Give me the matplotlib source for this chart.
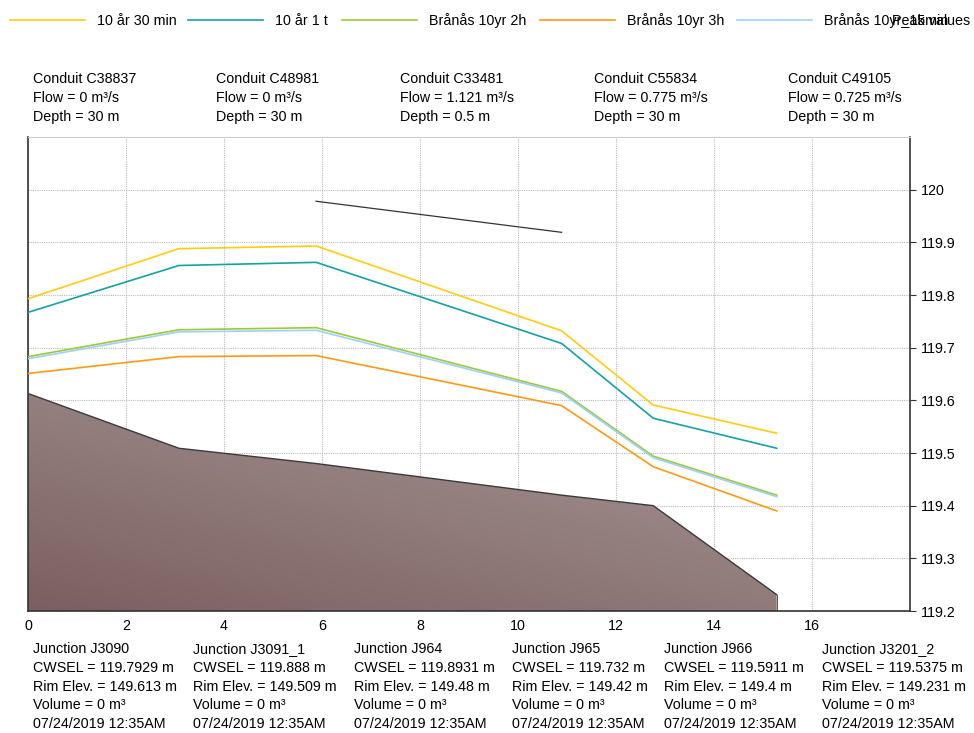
import numpy as np
import matplotlib
matplotlib.use("Agg")
import matplotlib.pyplot as plt
from matplotlib.lines import Line2D
from matplotlib.colors import LinearSegmentedColormap
from matplotlib.ticker import FuncFormatter

plt.rcParams['font.family'] = ['Liberation Sans', 'DejaVu Sans']

# Profile stations (distance along the profile) of the junctions
station = [0.0, 3.08, 5.88, 10.89, 12.76, 15.28]
junctions = ["J3090", "J3091_1", "J964", "J965", "J966", "J3201_2"]
rim_elev = [149.613, 149.509, 149.48, 149.42, 149.4, 149.231]
depth = 30.0
invert = [r - depth for r in rim_elev]
cwsel_labels = ["119.7929", "119.888", "119.8931", "119.732", "119.5911", "119.5375"]

# Water-surface elevations per simulation
series_names = ["10 år 30 min", "10 år 1 t", "Brånås 10yr 2h", "Brånås 10yr 3h", "Brånås 10yr_15min"]
series_colors = ["#ffcc11", "#13a3a3", "#99cc33", "#ff9a10", "#9fcfff"]
wsel_30min = [119.7929, 119.888, 119.8931, 119.732, 119.5911, 119.5375]
wsel_1t = [119.767, 119.856, 119.862, 119.708, 119.566, 119.509]
wsel_2h = [119.683, 119.734, 119.738, 119.617, 119.494, 119.420]
wsel_3h = [119.651, 119.683, 119.685, 119.590, 119.474, 119.390]
wsel_15min = [119.679, 119.730, 119.733, 119.614, 119.491, 119.417]
series_values = [wsel_30min, wsel_1t, wsel_2h, wsel_3h, wsel_15min]

# Crown line segment
crown_x = [5.88, 10.89]
crown_y = [119.978, 119.919]

conduits = ["C38837", "C48981", "C33481", "C55834", "C49105"]
conduit_flow = ["0", "0", "1.121", "0.775", "0.725"]
conduit_depth = ["30", "30", "0.5", "30", "30"]

W, H = 974, 733
FS = 10.3
fig = plt.figure(figsize=(W / 100, H / 100), dpi=100)
ax_l, ax_r, ax_t, ax_b = 28, 910, 137, 611
ax = fig.add_axes([ax_l / W, 1 - ax_b / H, (ax_r - ax_l) / W, (ax_b - ax_t) / H])

ax.set_xlim(0, 18)
ax.set_ylim(119.2, 120.1)
ax.set_xticks(np.arange(0, 18, 2))
ax.set_yticks(np.round(np.arange(119.2, 120.01, 0.1), 1))
ax.yaxis.set_major_formatter(FuncFormatter(lambda v, p: f"{round(v, 1):g}"))
ax.yaxis.tick_right()
ax.tick_params(axis='y', direction='out', length=4, labelsize=FS, pad=4, color='#333333')
ax.tick_params(axis='x', direction='out', length=0, labelsize=FS, pad=6)
ax.grid(True, color='#bbbbbb', linestyle=(0, (1, 1)), linewidth=0.8)
ax.set_axisbelow(True)
for side, sp in ax.spines.items():
    sp.set_color('#333333')
    sp.set_linewidth(1.2)
ax.spines['top'].set_color('#cccccc')
ax.spines['top'].set_linewidth(0.8)

# Ground fill with gradient
poly = ax.fill_between(station, invert, 119.2, facecolor='none', edgecolor='none')
gx, gy = np.meshgrid(np.linspace(0, 1, 200), np.linspace(0, 1, 200))
grad = (gx * 0.45 + gy * 0.55)
cmap = LinearSegmentedColormap.from_list("ground", ["#7b5f61", "#a99a98"])
img = ax.imshow(grad, extent=[0, station[-1], 119.2, max(invert)], origin='lower',
                cmap=cmap, aspect='auto', zorder=1)
img.set_clip_path(poly.get_paths()[0], transform=ax.transData)
ax.plot(station, invert, color='#3a3a3a', linewidth=1.0, zorder=2)
ax.plot([station[-1], station[-1]], [119.2, invert[-1]], color='#3a3a3a', linewidth=0.6, zorder=2)

for vals, col in zip(series_values, series_colors):
    ax.plot(station, vals, color=col, linewidth=1.2, zorder=3)
ax.plot(crown_x, crown_y, color='#333333', linewidth=0.9, zorder=3)

# Legend row across the top
leg_x = [10, 188, 342, 540, 737]
for x0, name, col in zip(leg_x, series_names, series_colors):
    fig.add_artist(Line2D([x0 / W, (x0 + 75) / W], [1 - 20 / H, 1 - 20 / H], color=col, linewidth=1.2))
    fig.text((x0 + 87) / W, 1 - 25 / H, name, fontsize=FS, va='baseline', ha='left')
fig.text(970 / W, 1 - 25 / H, "Peak values", fontsize=FS, va='baseline', ha='right')


def text_block(x_px, y0_px, step_px, lines):
    # y0_px is the vertical centre of the first line; draw on baselines
    for i, s in enumerate(lines):
        fig.text(x_px / W, 1 - (y0_px + 5 + i * step_px) / H, s,
                 fontsize=FS, va='baseline', ha='left')


# Conduit annotations
cond_x = [33, 216, 400, 594, 788]
for x0, c, f, d in zip(cond_x, conduits, conduit_flow, conduit_depth):
    text_block(x0, 78, 19, [f"Conduit {c}", f"Flow = {f} m³/s", f"Depth = {d} m"])

# Junction annotations
junc_x = [33, 193, 354, 512, 664, 822]
for x0, j, cw, rim in zip(junc_x, junctions, cwsel_labels, rim_elev):
    text_block(x0, 648, 18.8, [f"Junction {j}", f"CWSEL = {cw} m", f"Rim Elev. = {rim:g} m",
                               "Volume = 0 m³", "07/24/2019 12:35AM"])

fig.savefig("out.png", dpi=100)
